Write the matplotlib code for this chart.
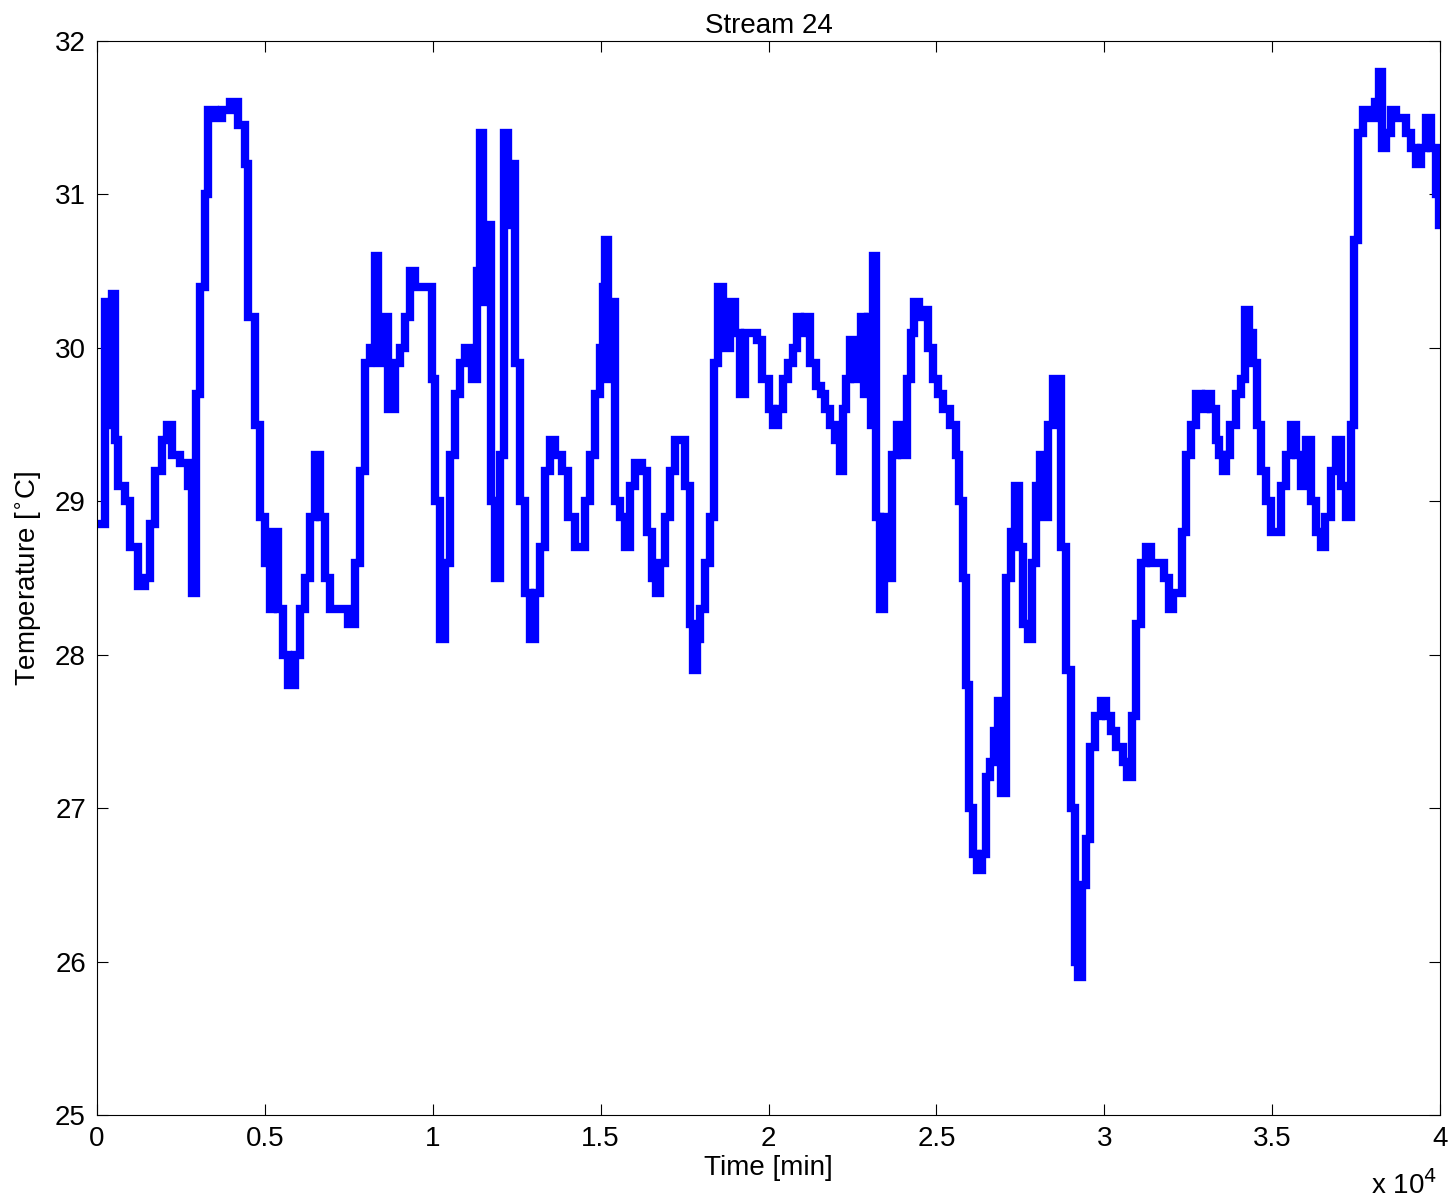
import matplotlib.pyplot as plt
import numpy as np

# time [min] and temperature [C]
time = [0, 90, 240, 330, 450, 540, 630, 830, 980, 1220, 1430, 1580, 1730, 1940, 2090, 2240, 2470, 2710, 2830,
        2950, 3070, 3220, 3310, 3520, 3730, 3960, 4200, 4410, 4500, 4710, 4860, 5010, 5160, 5240, 5390,
        5540, 5690, 5900, 6050, 6200, 6350, 6500, 6650, 6790, 6940, 7240, 7480, 7690, 7840, 7990, 8140,
        8280, 8370, 8490, 8670, 8880, 9030, 9180, 9330, 9480, 9770, 9980, 10070, 10220, 10370, 10520,
        10670, 10820, 10970, 11180, 11320, 11410, 11500, 11620, 11740, 11860, 12010, 12130, 12250, 12370,
        12460, 12610, 12750, 12900, 13050, 13200, 13350, 13500, 13650, 13860, 14040, 14240, 14390, 14540,
        14690, 14840, 14990, 15080, 15140, 15230, 15350, 15440, 15590, 15730, 15880, 16030, 16240, 16390,
        16540, 16660, 16780, 16930, 17080, 17220, 17370, 17520, 17670, 17760, 17880, 17970, 18120, 18270,
        18390, 18510, 18630, 18740, 18860, 19010, 19160, 19310, 19460, 19670, 19820, 20000, 20140, 20290,
        20440, 20590, 20740, 20860, 20950, 21100, 21250, 21400, 21550, 21690, 21840, 21990, 22140, 22230,
        22320, 22440, 22590, 22740, 22830, 22950, 23040, 23120, 23210, 23330, 23450, 23570, 23690, 23840,
        23990, 24110, 24230, 24320, 24470, 24610, 24760, 24910, 25060, 25210, 25420, 25570, 25660, 25780,
        25870, 25960, 26080, 26220, 26370, 26490, 26610, 26730, 26850, 26910, 27060, 27210, 27330, 27450,
        27570, 27740, 27860, 27980, 28100, 28190, 28310, 28460, 28610, 28700, 28850, 29000, 29120, 29230,
        29350, 29470, 29590, 29710, 29890, 30040, 30190, 30340, 30550, 30690, 30840, 30960, 31080, 31230,
        31380, 31590, 31770, 31920, 32040, 32210, 32330, 32450, 32570, 32720, 32870, 33020, 33170, 33320,
        33410, 33530, 33640, 33760, 33910, 34060, 34180, 34300, 34420, 34540, 34660, 34810, 34960, 35100,
        35250, 35400, 35550, 35700, 35850, 36000, 36150, 36300, 36450, 36590, 36740, 36890, 37040, 37190,
        37340, 37430, 37550, 37700, 37880, 38050, 38170, 38260, 38380, 38530, 38680, 38830, 38980, 39130,
        39280, 39430, 39570, 39720, 39870, 39960, 40000]
temp = [28.85, 28.85, 30.3, 29.5, 30.35, 29.4, 29.1, 29.0, 28.7, 28.45, 28.5, 28.85, 29.2, 29.4, 29.5, 29.3,
        29.25, 29.1, 28.4, 29.7, 30.4, 31.0, 31.55, 31.5, 31.55, 31.6, 31.45, 31.2, 30.2, 29.5, 28.9,
        28.6, 28.3, 28.8, 28.3, 28.0, 27.8, 28.0, 28.3, 28.5, 28.9, 29.3, 28.9, 28.5, 28.3, 28.3, 28.2,
        28.6, 29.2, 29.9, 30.0, 30.6, 29.9, 30.2, 29.6, 29.9, 30.0, 30.2, 30.5, 30.4, 30.4, 29.8, 29.0,
        28.1, 28.6, 29.3, 29.7, 29.9, 30.0, 29.8, 30.5, 31.4, 30.3, 30.8, 29.0, 28.5, 29.3, 31.4, 30.8,
        31.2, 29.9, 29.0, 28.4, 28.1, 28.4, 28.7, 29.2, 29.4, 29.3, 29.2, 28.9, 28.7, 28.7, 29.0, 29.3,
        29.7, 30.0, 30.4, 30.7, 29.8, 30.3, 29.0, 28.9, 28.7, 29.1, 29.25, 29.2, 28.8, 28.5, 28.4, 28.6,
        28.9, 29.2, 29.4, 29.4, 29.1, 28.2, 27.9, 28.1, 28.3, 28.6, 28.9, 29.9, 30.4, 30.2, 30.0, 30.3,
        30.1, 29.7, 30.1, 30.1, 30.05, 29.8, 29.6, 29.5, 29.6, 29.8, 29.9, 30.0, 30.2, 30.1, 30.2, 29.9,
        29.75, 29.7, 29.6, 29.5, 29.4, 29.2, 29.6, 29.8, 30.05, 29.8, 30.2, 29.7, 30.2, 29.5, 30.6, 28.9,
        28.3, 28.9, 28.5, 29.3, 29.5, 29.3, 29.8, 30.1, 30.3, 30.2, 30.25, 30.0, 29.8, 29.7, 29.6, 29.5,
        29.3, 29.0, 28.5, 27.8, 27.0, 26.7, 26.6, 26.7, 27.2, 27.3, 27.5, 27.7, 27.1, 28.5, 28.8, 29.1,
        28.7, 28.2, 28.1, 28.6, 29.1, 29.3, 28.9, 29.5, 29.8, 29.8, 28.7, 27.9, 27.0, 26.0, 25.9, 26.5,
        26.8, 27.4, 27.6, 27.7, 27.6, 27.5, 27.4, 27.3, 27.2, 27.6, 28.2, 28.6, 28.7, 28.6, 28.6, 28.5,
        28.3, 28.4, 28.4, 28.8, 29.3, 29.5, 29.7, 29.6, 29.7, 29.6, 29.4, 29.3, 29.2, 29.3, 29.5, 29.7,
        29.8, 30.25, 30.1, 29.9, 29.5, 29.2, 29.0, 28.8, 28.8, 29.1, 29.3, 29.5, 29.3, 29.1, 29.4, 29.0,
        28.8, 28.7, 28.9, 29.2, 29.4, 29.1, 28.9, 29.5, 30.7, 31.4, 31.55, 31.5, 31.6, 31.8, 31.3, 31.4,
        31.55, 31.5, 31.5, 31.4, 31.3, 31.2, 31.3, 31.5, 31.3, 31.0, 30.8, 30.8]

x_ticks = [0, 5000, 10000, 15000, 20000, 25000, 30000, 35000, 40000]
x_labels = ['0', '0.5', '1', '1.5', '2', '2.5', '3', '3.5', '4']
y_ticks = [25, 26, 27, 28, 29, 30, 31, 32]

plt.rcParams['font.family'] = ['Liberation Sans', 'DejaVu Sans']
fig = plt.figure(figsize=(14.51, 12), dpi=100)
ax = fig.add_axes([0.0669, 0.0708, 0.9255, 0.895])
ax.plot(time, temp, color='#0000ff', linewidth=6, drawstyle='steps-post', solid_joinstyle='miter')
ax.set_xlim(0, 40000)
ax.set_ylim(25, 32)
ax.set_xticks(x_ticks)
ax.set_xticklabels(x_labels)
ax.set_yticks(y_ticks)
ax.tick_params(direction='in', labelsize=20, length=8, top=True, right=True, pad=8)
ax.set_title('Stream 24', fontsize=20, pad=6)
ax.set_xlabel('Time [min]', fontsize=20, labelpad=2)
ax.set_ylabel('Temperature [$^{\\circ}$C]', fontsize=20, labelpad=8)
fig.text(0.945, 0.005, 'x 10$^4$', fontsize=20)
fig.savefig('out.png')
